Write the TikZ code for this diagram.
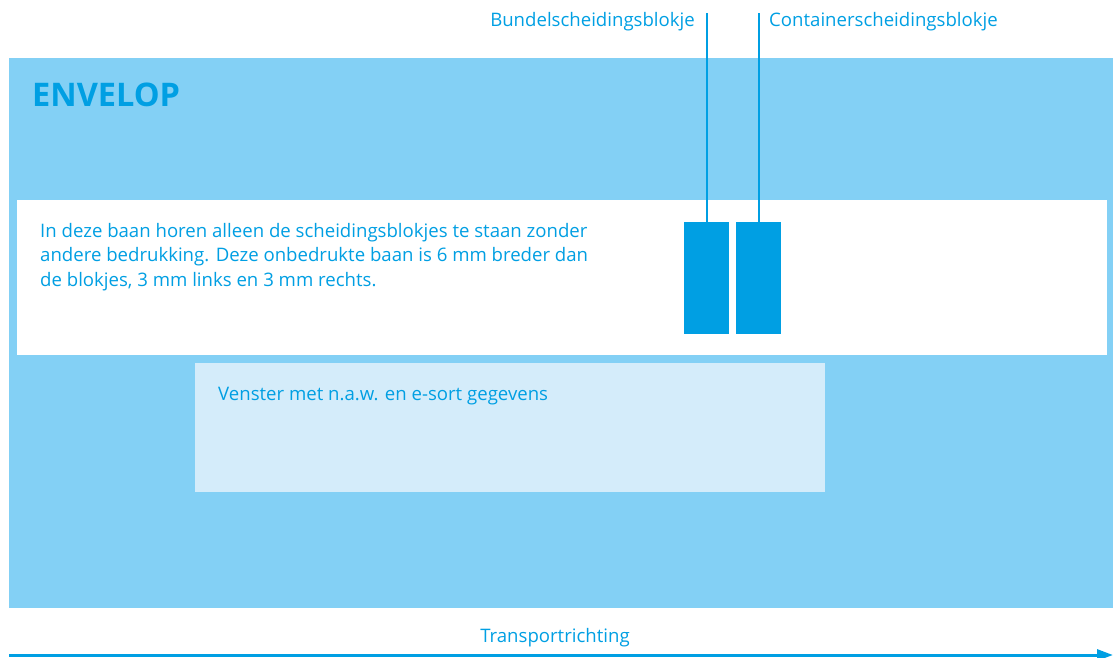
\documentclass[tikz,border=0pt]{standalone}
\usepackage{fontspec}
\setmainfont{Open Sans}
\usetikzlibrary{arrows.meta}
\definecolor{envblue}{HTML}{83D0F5}
\definecolor{darkblue}{HTML}{009FE3}
\definecolor{winblue}{HTML}{D4ECFA}
\tikzset{
  area/.style={draw=none, inner sep=0pt, outer sep=0pt, rectangle},
  blok/.style={area, fill=darkblue},
  lbl/.style={inner sep=0pt, text=darkblue, font=\fontsize{18.6}{24.5}\selectfont},
  lead/.style={draw=darkblue, line width=2pt},
}
\begin{document}
\begin{tikzpicture}[x=1pt,y=-1pt]
\useasboundingbox (0,0) rectangle (1120,657);
% envelope
\path[fill=envblue] (9,58) rectangle (1113,608);
\node[area, minimum width=1104pt, minimum height=550pt] (env) at (561,333) {};
\node[lbl, anchor=base west, font=\fontsize{32.5}{34}\selectfont\bfseries] (title) at (32,106) {ENVELOP};
% white band
\path[fill=white] (17,200) rectangle (1107,355);
\node[area, minimum width=1090pt, minimum height=155pt] (band) at (562,277.5) {};
\node[lbl, anchor=base west, align=left] (bandtxt) at (40,286)
  {In deze baan horen alleen de scheidingsblokjes te staan zonder\\
   andere bedrukking. Deze onbedrukte baan is 6 mm breder dan\\
   de blokjes, 3 mm links en 3 mm rechts.};
% window
\path[fill=winblue] (195,363) rectangle (825,492);
\node[area, minimum width=630pt, minimum height=129pt] (win) at (510,427.5) {};
\node[lbl, anchor=base west] (wintxt) at (218,400) {Venster met n.a.w. en e-sort gegevens};
% blocks
\node[blok, minimum width=45pt, minimum height=112pt] (b1) at (706.5,278) {};
\node[blok, minimum width=45pt, minimum height=112pt] (b2) at (758.5,278) {};
% leaders
\coordinate (t1) at (706.5,13);
\coordinate (t2) at (758.5,13);
\draw[lead] (t1) -- (b1.north);
\draw[lead] (t2) -- (b2.north);
\node[lbl, anchor=base east] (l1) at (695,26) {Bundelscheidingsblokje};
\node[lbl, anchor=base west] (l2) at (769,26) {Containerscheidingsblokje};
% transport
\node[lbl, anchor=base] (tr) at (555,642) {Transportrichting};
\coordinate (a0) at (9,655);
\coordinate (a1) at (1113,655);
\draw[draw=darkblue, line width=3pt, -{Triangle[length=16pt,width=11pt]}] (a0) -- (a1);
\end{tikzpicture}
\end{document}
